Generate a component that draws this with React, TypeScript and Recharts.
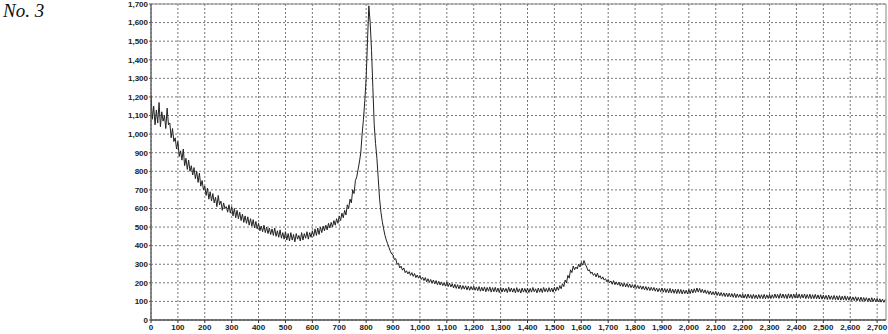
import React from "react";
import {
  LineChart,
  Line,
  XAxis,
  YAxis,
  CartesianGrid,
  ReferenceArea,
} from "recharts";

const step = 5;
const intensity = [
  1210, 1080, 1150, 1050, 1130, 1060, 1170, 1040, 1120, 1070, 1100, 1030, 1140, 1050, 1060, 980, 1030, 960, 980, 920,
  960, 880, 910, 860, 920, 830, 870, 810, 860, 800, 830, 780, 820, 760, 800, 740, 790, 720, 750, 700,
  720, 670, 710, 650, 690, 640, 680, 630, 660, 610, 670, 620, 640, 590, 630, 600, 610, 580, 620, 575,
  610, 560, 600, 550, 590, 545, 580, 535, 570, 525, 560, 520, 555, 510, 545, 505, 540, 495, 530, 490,
  520, 480, 505, 475, 510, 470, 500, 465, 495, 460, 490, 455, 495, 450, 480, 445, 485, 440, 470, 435,
  475, 430, 465, 425, 470, 430, 460, 420, 465, 435, 455, 425, 470, 430, 465, 440, 475, 435, 470, 445,
  480, 450, 490, 455, 495, 460, 500, 470, 505, 480, 510, 485, 520, 495, 525, 500, 535, 510, 545, 520,
  560, 535, 575, 550, 590, 565, 620, 600, 650, 630, 700, 680, 750, 770, 810, 850, 900, 1000, 1080, 1180,
  1300, 1500, 1690, 1600, 1450, 1250, 1050, 950, 870, 760, 650, 580, 530, 490, 455, 430, 410, 390, 370, 355,
  350, 325, 330, 300, 305, 280, 290, 268, 280, 255, 265, 248, 260, 240, 255, 235, 250, 228, 242, 225,
  240, 218, 230, 212, 228, 205, 222, 202, 218, 198, 215, 195, 212, 190, 208, 188, 205, 185, 200, 182,
  205, 180, 198, 178, 195, 172, 192, 170, 190, 168, 188, 165, 185, 166, 184, 162, 182, 160, 180, 162,
  182, 160, 178, 158, 180, 155, 176, 156, 178, 152, 175, 155, 178, 150, 174, 152, 176, 150, 172, 148,
  175, 150, 172, 152, 170, 148, 176, 152, 172, 150, 170, 146, 174, 150, 168, 145, 172, 150, 170, 148,
  172, 148, 170, 150, 175, 152, 168, 146, 172, 150, 170, 148, 175, 152, 170, 150, 174, 152, 172, 150,
  176, 155, 178, 160, 185, 168, 195, 180, 215, 200, 240, 225, 270, 255, 290, 270, 285, 275, 300, 285,
  310, 295, 320, 300, 285, 265, 270, 250, 258, 240, 250, 232, 252, 228, 238, 220, 232, 215, 222, 205,
  218, 200, 210, 192, 212, 190, 205, 188, 204, 182, 200, 180, 198, 178, 196, 176, 194, 174, 190, 172,
  190, 170, 186, 168, 184, 165, 182, 162, 180, 160, 178, 158, 176, 158, 175, 155, 172, 152, 170, 152,
  172, 150, 170, 148, 168, 146, 170, 145, 166, 144, 165, 142, 166, 143, 164, 140, 162, 142, 160, 140,
  164, 142, 166, 145, 168, 148, 172, 150, 170, 148, 165, 145, 162, 142, 158, 138, 156, 136, 152, 134,
  154, 132, 150, 130, 148, 128, 146, 126, 145, 125, 144, 124, 142, 122, 143, 120, 140, 122, 138, 120,
  140, 118, 138, 116, 140, 118, 136, 115, 138, 116, 135, 114, 137, 116, 136, 115, 138, 114, 135, 116,
  138, 115, 136, 117, 140, 118, 138, 116, 142, 118, 140, 117, 138, 115, 141, 118, 139, 116, 140, 118,
  142, 118, 140, 116, 138, 118, 140, 115, 137, 116, 139, 114, 136, 115, 138, 114, 135, 113, 136, 112,
  134, 112, 132, 110, 134, 111, 130, 110, 132, 109, 130, 108, 131, 107, 128, 108, 130, 106, 127, 107,
  126, 105, 124, 104, 125, 103, 122, 102, 123, 100, 121, 101, 120, 100, 118, 98, 120, 99, 117, 98,
  116, 97, 114, 96, 112, 95, 110,
];

const xTicks = [
  0, 100, 200, 300, 400, 500, 600, 700, 800, 900, 1000, 1100, 1200, 1300,
  1400, 1500, 1600, 1700, 1800, 1900, 2000, 2100, 2200, 2300, 2400, 2500,
  2600, 2700,
];
const yTicks = [
  0, 100, 200, 300, 400, 500, 600, 700, 800, 900, 1000, 1100, 1200, 1300,
  1400, 1500, 1600, 1700,
];
const xMax = 2733;
const yMax = 1700;

const data = intensity.map((v, i) => ({ x: i * step, y: v }));

const fmt = (v: number) => v.toLocaleString("en-US");

const tickStyle = {
  fontFamily: "'Liberation Sans', Arial, sans-serif",
  fontSize: 8,
  fontWeight: "bold" as const,
  fill: "#222",
};

export default function App() {
  return (
    <div
      style={{
        position: "absolute",
        left: 0,
        top: 0,
        width: 888,
        height: 334,
        background: "#fff",
      }}
    >
      <svg
        width={80}
        height={30}
        style={{ position: "absolute", left: 0, top: 0 }}
      >
        <text
          x={3}
          y={17}
          fontFamily="'Liberation Serif', 'Times New Roman', serif"
          fontStyle="italic"
          fontSize={19}
          fill="#111"
        >
          No. 3
        </text>
      </svg>
      <LineChart
        width={888}
        height={334}
        data={data}
        margin={{ top: 4, right: 2, bottom: 0, left: 0 }}
      >
        <CartesianGrid
          stroke="#777"
          strokeDasharray="2 2"
          horizontalValues={yTicks}
          verticalValues={xTicks}
        />
        <XAxis
          dataKey="x"
          type="number"
          domain={[0, xMax]}
          ticks={xTicks}
          interval={0}
          tickFormatter={fmt}
          height={14}
          tickSize={3}
          tickMargin={1}
          stroke="#333"
          tick={tickStyle}
          allowDataOverflow
        />
        <YAxis
          type="number"
          domain={[0, yMax]}
          ticks={yTicks}
          interval={0}
          tickFormatter={fmt}
          width={151}
          tickSize={2}
          tickMargin={1}
          stroke="#555"
          tick={tickStyle}
          allowDataOverflow
        />
        <ReferenceArea
          x1={0}
          x2={xMax}
          y1={0}
          y2={yMax}
          fill="none"
          stroke="#888"
          strokeWidth={1}
        />
        <Line
          type="linear"
          dataKey="y"
          stroke="#222"
          strokeWidth={1}
          dot={false}
          isAnimationActive={false}
        />
      </LineChart>
    </div>
  );
}
